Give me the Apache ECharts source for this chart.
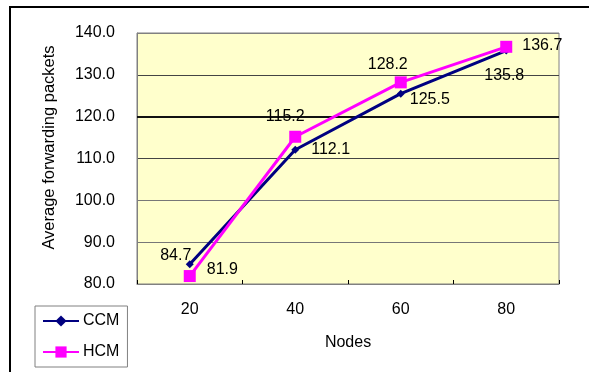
<!DOCTYPE html>
<html><head><meta charset="utf-8">
<script src="https://cdn.jsdelivr.net/npm/echarts@6/dist/echarts.min.js"></script>
<style>html,body{margin:0;padding:0;background:#fff}#c{width:589px;height:372px}</style>
</head><body><div id="c"></div>
<script>
const categories = ['20', '40', '60', '80'];
const ccm = [84.7, 112.1, 125.5, 135.8];
const hcm = [81.9, 115.2, 128.2, 136.7];
const ccmLabelPos = ['top', 'right', 'right', 'bottom'];
const hcmLabelPos = ['right', 'top', 'top', 'right'];

const font = 'Liberation Sans, Arial, sans-serif';
const FS = 16;
function mk(vals, pos, offs) {
  return vals.map((v, i) => ({ value: v, label: { position: pos[i], offset: offs[i] } }));
}
const chart = echarts.init(document.getElementById('c'));
chart.setOption({
  animation: false,
  textStyle: { fontFamily: font },
  grid: { left: 137, top: 33, right: 30, bottom: 88, show: true, backgroundColor: '#FFFFCC', borderColor: '#808080', borderWidth: 1 },
  legend: {
    orient: 'vertical', left: 35, top: 306, itemWidth: 36, itemHeight: 14, itemGap: 15,
    borderColor: '#808080', borderWidth: 1, padding: [7, 8, 7, 7],
    textStyle: { fontFamily: font, fontSize: FS, color: '#000', padding: [0, 0, 0, -1] },
    data: ['CCM', 'HCM']
  },
  xAxis: {
    type: 'category', data: categories, boundaryGap: true,
    name: 'Nodes', nameLocation: 'middle', nameGap: 51,
    nameTextStyle: { fontFamily: font, fontSize: FS, color: '#000' },
    axisLine: { lineStyle: { color: '#808080', width: 1 } },
    axisTick: { show: true, inside: true, length: 4, lineStyle: { color: '#000' } },
    axisLabel: { color: '#000', fontSize: FS, fontFamily: font, margin: 18 }
  },
  yAxis: {
    type: 'value', min: 80, max: 140, interval: 10,
    name: 'Average forwarding packets', nameLocation: 'middle', nameGap: 79,
    nameTextStyle: { fontFamily: font, fontSize: 16.5, color: '#000', padding: [0, 0, 0, 22] },
    axisLine: { show: true, lineStyle: { color: '#808080' } },
    axisTick: { show: false },
    axisLabel: { color: '#000', fontSize: FS, fontFamily: font, margin: 22, formatter: v => v.toFixed(1) },
    splitLine: { show: true, lineStyle: { color: ['#808080', '#777', '#777', '#444', '#111', '#444', '#808080'], width: 1 } }
  },
  series: [
    {
      name: 'CCM', type: 'line',
      data: mk(ccm, ccmLabelPos, [[-14, 8], [7, 0], [0, 6], [-2, 8]]),
      symbol: 'diamond', symbolSize: 8,
      lineStyle: { color: '#000080', width: 3 }, itemStyle: { color: '#000080' },
      label: { show: true, color: '#000', fontSize: FS, fontFamily: font, formatter: p => p.value.toFixed(1) },
      z: 2
    },
    {
      name: 'HCM', type: 'line',
      data: mk(hcm, hcmLabelPos, [[6, -6], [-10, -1], [-13, 1], [5, -1]]),
      symbol: 'rect', symbolSize: 12,
      lineStyle: { color: '#FF00FF', width: 3 }, itemStyle: { color: '#FF00FF' },
      label: { show: true, color: '#000', fontSize: FS, fontFamily: font, formatter: p => p.value.toFixed(1) },
      markLine: { silent: true, symbol: 'none', label: { show: false }, lineStyle: { color: '#111', width: 2, type: 'solid' }, data: [{ yAxis: 120 }], z: 1 },
      z: 3
    }
  ],
  graphic: [
    { type: 'line', shape: { x1: 9, y1: 7, x2: 589, y2: 7 }, style: { stroke: '#000', lineWidth: 2 } },
    { type: 'line', shape: { x1: 10, y1: 6, x2: 10, y2: 372 }, style: { stroke: '#000', lineWidth: 2 } }
  ]
});
</script></body></html>
